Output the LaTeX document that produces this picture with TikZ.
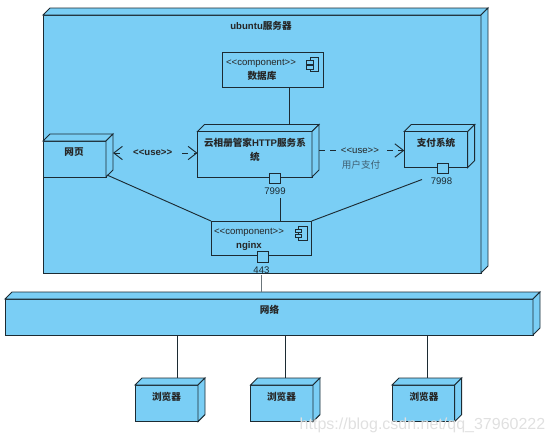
\documentclass[tikz,border=0pt]{standalone}
\usepackage{fontspec}
\setmainfont{Liberation Sans}
\newfontfamily\cjk{Noto Sans CJK SC}
\usetikzlibrary{arrows.meta,calc}
\definecolor{boxfill}{HTML}{7ACEF5}
\definecolor{boxline}{HTML}{1C2B33}
\definecolor{notegray}{HTML}{3F5F72}
\newcommand{\zh}[1]{{\cjk #1}}
\newcommand{\stereo}[1]{<{}<#1>{}>}
% #1 name, #2 x1, #3 y1, #4 x2, #5 y2 : deployment box with its 3D faces
\newcommand{\depbox}[5]{%
  \node[flatbox, anchor=north west, minimum width=(#4-#2)*0.75pt, minimum height=(#5-#3)*0.75pt] (#1) at (#2,#3) {};
  \coordinate (#1-back) at (#2+7,#3-7);
  \draw[face] (#2,#3) -- (#2+7,#3-7) -- (#4+7,#3-7) -- (#4,#3) -- cycle;
  \draw[face] (#4,#3) -- (#4+7,#3-7) -- (#4+7,#5-7) -- (#4,#5) -- cycle;
}
\newcommand{\compicon}[2]{% #1 left x of tabs, #2 top y
  \draw[face] (#1+3.5,#2) rectangle (#1+12,#2+14);
  \draw[face] (#1,#2+3) rectangle (#1+6.5,#2+6.5);
  \draw[face] (#1,#2+8) rectangle (#1+6.5,#2+11.5);
}
\tikzset{
  flatbox/.style={draw=boxline, fill=boxfill, line width=0.7pt, inner sep=0pt, outer sep=0pt},
  face/.style={draw=boxline, fill=boxfill, line width=0.7pt, line join=miter},
  conn/.style={draw=boxline, line width=0.7pt},
  conngray/.style={draw=boxline!65, line width=0.85pt},
  usedash/.style={draw=boxline, line width=0.7pt, dash pattern=on 4.5pt off 4pt, -{Straight Barb[length=6.5pt,width=10pt,line width=0.7pt]}},
  usedash2/.style={usedash, {Straight Barb[length=6.5pt,width=10pt,line width=0.7pt]}-{Straight Barb[length=6.5pt,width=10pt,line width=0.7pt]}},
  txt/.style={font=\fontsize{7.2pt}{8.6pt}\selectfont, text=black!85, inner sep=0pt, align=center},
  btxt/.style={txt, font=\fontsize{7.2pt}{8.6pt}\selectfont\bfseries},
  porttxt/.style={txt, text=boxline},
  portbox/.style={flatbox, minimum width=8.3pt, minimum height=8.1pt},
}
\begin{document}
\begin{tikzpicture}[x=0.75pt,y=-0.75pt]
\useasboundingbox (0,0) rectangle (554,444);
% containers
\depbox{server}{43}{15}{481}{273}
\depbox{net}{5}{299}{533}{335}
% inner boxes
\depbox{web}{43}{141}{106}{177}
\depbox{http}{197.5}{131.5}{312}{177}
\depbox{pay}{404.3}{131.5}{467.7}{167.5}
\depbox{b1}{135}{385}{198}{421.6}
\depbox{b2}{250.5}{385}{313}{421.6}
\depbox{b3}{392}{385}{454.7}{421.6}
\node[flatbox, anchor=north west, minimum width=100.5*0.75pt, minimum height=35*0.75pt] (db) at (222.5,52) {};
\node[flatbox, anchor=north west, minimum width=100.7*0.75pt, minimum height=34.7*0.75pt] (nginx) at (211,221) {};
\compicon{306.5}{57.5}
\compicon{295.3}{226}
% ports
\node[portbox] (p7999) at (275,178.4) {};
\node[portbox] (p7998) at (442.6,168.5) {};
\node[portbox] (p443) at (262.8,256.8) {};
% texts
\node[btxt] (title) at (261,26) {ubuntu\zh{服务器}};
\node[txt] (dbs) at (261,63) {\stereo{component}};
\node[btxt] (dbn) at (262,76) {\zh{数据库}};
\node[txt] (ngs) at (249,232) {\stereo{component}};
\node[btxt] (ngn) at (249,246) {nginx};
\node[btxt] (httpn) at (255,150) {\zh{云相册管家}HTTP\zh{服务系}\\[2pt]\zh{统}};
\node[btxt] (webn) at (74,152) {\zh{网页}};
\node[btxt] (payn) at (436,143) {\zh{支付系统}};
\node[btxt] (netn) at (269.5,310) {\zh{网络}};
\node[btxt] (b1n) at (166.5,397) {\zh{浏览器}};
\node[btxt] (b2n) at (281.5,397) {\zh{浏览器}};
\node[btxt] (b3n) at (424,397) {\zh{浏览器}};
\node[porttxt] (l7999) at (275,191) {7999};
\node[porttxt] (l7998) at (441.5,181) {7998};
\node[porttxt] (l443) at (261.5,270) {443};
% connectors
\coordinate (xdb) at (289.3,0);
\draw[conn] (db.south -| xdb) -- (http-back -| xdb);
\coordinate (p9end) at (280.5,198);
\draw[conn] (p9end) -- (nginx.north -| p9end);
\coordinate (webc) at (107,175);
\draw[conn] (webc) -- (nginx.north west);
\coordinate (payend) at (422,179.5);
\draw[conn] (payend) -- (nginx.north east);
\draw[conngray] ([yshift=-1.2pt]l443.south) -- (net-back -| l443.south);
\coordinate (xb1) at (177.5,0);
\coordinate (xb2) at (285.5,0);
\coordinate (xb3) at (427.5,0);
\draw[conn] (net.south -| xb1) -- (b1-back -| xb1);
\draw[conn] (net.south -| xb2) -- (b2-back -| xb2);
\draw[conn] (net.south -| xb3) -- (b3-back -| xb3);
% use dependencies
\coordinate (wright) at (113,153);
\draw[usedash2] (wright) -- (http.west |- wright)
  node[btxt, pos=0.47, fill=boxfill, inner xsep=6.5pt, inner ysep=1pt] (use1) {\stereo{use}};
\coordinate (hright) at (319,150.5);
\draw[usedash] (hright) -- (pay.west |- hright)
  node[txt, pos=0.48, fill=boxfill, inner xsep=4pt, inner ysep=1pt] (use2) {\stereo{use}};
\node[txt, text=notegray] (usernote) at (361,165) {\zh{用户支付}};
% watermark
\node[inner sep=0pt, text=black!12, font=\fontsize{12pt}{14pt}\selectfont] (mark) at (422.5,425) {https://blog.csdn.net/qq\_37960222};
\end{tikzpicture}
\end{document}
